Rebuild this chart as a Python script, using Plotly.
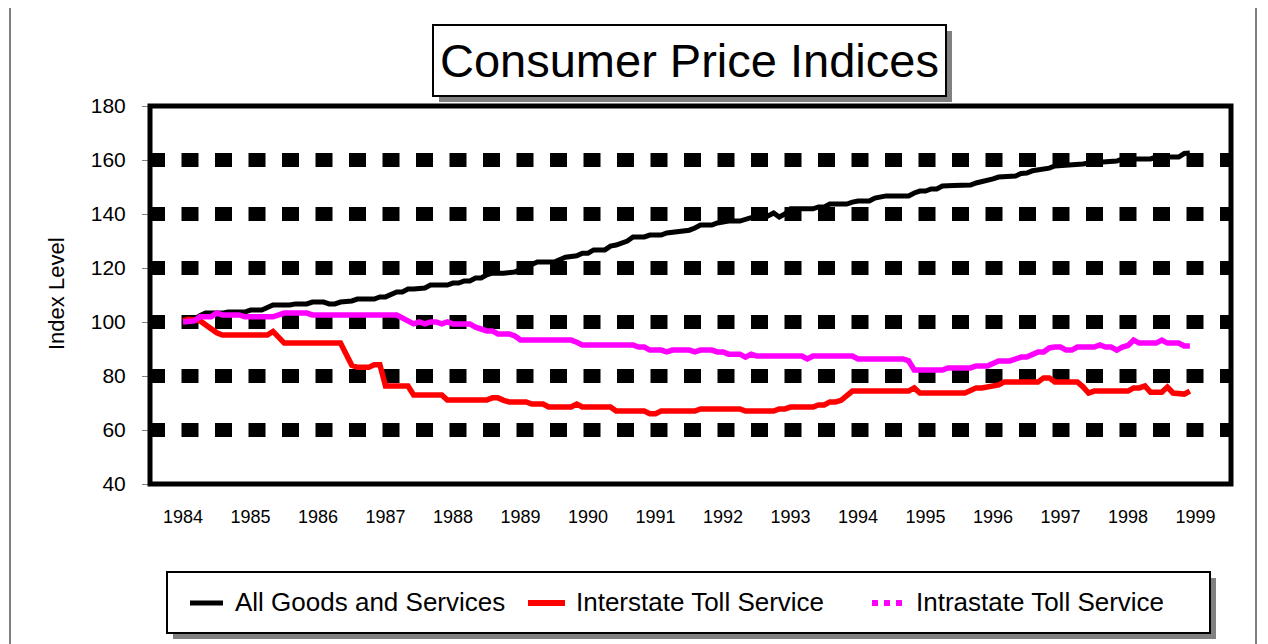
import plotly.graph_objects as go

# ---------------- data ----------------
# x = months since January 1984, y = index level
year_ticks = [0, 12, 24, 36, 48, 60, 72, 84, 96, 108, 120, 132, 144, 156, 168, 180]
year_labels = ["1984", "1985", "1986", "1987", "1988", "1989", "1990", "1991",
               "1992", "1993", "1994", "1995", "1996", "1997", "1998", "1999"]
y_ticks = [40, 60, 80, 100, 120, 140, 160, 180]
grid_levels = [60, 80, 100, 120, 140, 160]

all_goods_month = [0, 2, 3, 4, 7, 8, 11, 12, 14, 15, 16, 19, 20, 22, 23, 25, 26, 27, 28, 30,
                   31, 34, 35, 36, 37, 38, 39, 40, 41, 42, 43, 44, 47, 48, 49, 50, 51, 52, 53,
                   54, 55, 57, 58, 59, 60, 62, 63, 66, 67, 68, 70, 71, 72, 73, 75, 76, 77, 78,
                   79, 80, 82, 83, 85, 86, 87, 88, 90, 91, 92, 94, 95, 96, 97, 99, 100, 101,
                   102, 104, 105, 106, 107, 108, 112, 113, 114, 115, 118, 119, 120, 122, 123,
                   125, 129, 130, 131, 132, 133, 134, 135, 137, 140, 141, 142, 143, 144, 145,
                   147, 148, 149, 150, 151, 152, 153, 154, 155, 159, 160, 161, 165, 166, 167,
                   172, 173, 177, 178, 179]
all_goods_value = [100.0, 101.0, 102.3, 103.3, 103.3, 103.7, 103.7, 104.4, 104.4, 105.2, 106.3,
                   106.3, 106.7, 106.7, 107.4, 107.4, 106.7, 106.7, 107.4, 107.8,
                   108.5, 108.5, 109.3, 109.3, 110.4, 111.1, 111.1, 112.2, 112.2, 112.6, 112.6,
                   113.7, 113.7, 114.4, 114.4, 115.2, 115.2, 116.3, 116.3,
                   117.5, 118.1, 118.1, 118.5, 118.5, 119.5, 121.5, 122.2, 122.2, 123.0, 124.0,
                   124.5, 125.5, 125.5, 126.7, 126.7, 128.1, 128.5, 129.2,
                   130.0, 131.5, 131.5, 132.2, 132.2, 133.0, 133.3, 133.7, 134.0, 134.8, 135.9,
                   135.9, 136.7, 137.0, 137.4, 137.4, 138.0, 138.5,
                   139.3, 139.3, 140.4, 138.9, 140.0, 141.9, 141.9, 142.6, 142.6, 143.7, 143.7,
                   144.4, 144.8, 144.8, 145.9,
                   146.7, 146.7, 147.8, 148.5, 148.5, 149.3, 149.3, 150.4, 150.6, 150.7, 151.5,
                   151.9, 152.2, 153.0, 153.7,
                   154.1, 154.1, 155.0, 155.2, 156.0, 156.3, 156.3, 157.0, 157.8, 158.0, 158.5,
                   158.9, 159.1, 159.6, 160.4,
                   160.4, 161.1, 161.1, 162.4, 162.6]

interstate_month = [0, 1, 3, 4, 5, 6, 7, 15, 16, 17, 18, 28, 29, 30, 31, 33, 34, 35, 36, 40, 41,
                    46, 47, 54, 55, 56, 57, 58, 61, 62, 64, 65, 69, 70, 71, 76, 77, 82, 83, 84,
                    85, 91, 92, 99, 100, 105, 106, 107, 108, 112, 113, 114, 115, 116, 117, 118,
                    119, 129, 130, 131, 139, 140, 141, 142, 143, 144, 145, 146, 152, 153, 154,
                    155, 159, 160, 161, 162, 168, 169, 170, 171, 172, 174, 175, 176, 178, 179]
interstate_value = [100.5, 101.0, 100.5, 99.0, 97.5, 96.0, 95.2, 95.2, 96.5, 94.0, 92.2, 92.2,
                    88.0, 84.0, 83.2, 83.2, 84.2, 84.2, 76.3, 76.3, 73.0,
                    73.0, 71.1, 71.1, 71.9, 71.9, 71.0, 70.4, 70.4, 69.6, 69.6, 68.5, 68.5, 69.6,
                    68.5, 68.5, 67.0, 67.0, 66.0, 66.0,
                    67.0, 67.0, 67.8, 67.8, 67.0, 67.0, 67.8, 67.8, 68.5, 68.5, 69.3, 69.3, 70.4,
                    70.4, 71.0, 72.5,
                    74.4, 74.4, 75.6, 73.7, 73.7, 74.6, 75.6, 75.6, 76.0, 76.7, 76.7, 77.8, 77.8,
                    79.3, 79.3,
                    77.8, 77.8, 76.0, 73.7, 74.4, 74.4, 75.6, 75.6, 76.3, 74.0, 74.0, 75.9, 73.7,
                    73.3, 74.4]

intrastate_month = [0, 1, 2, 3, 5, 6, 7, 10, 11, 16, 17, 18, 22, 23, 38, 39, 40, 41, 42, 43, 44,
                    45, 46, 47, 48, 51, 52, 53, 54, 55, 56, 58, 59, 60, 69, 70, 71, 80, 81, 82,
                    83, 85, 86, 87, 90, 91, 92, 94, 95, 96, 97, 99, 100, 101, 102, 110, 111,
                    112, 119, 120, 128, 129, 130, 135, 136, 140, 141, 143, 144, 145, 147, 148,
                    149, 150, 151, 152, 153, 154, 155, 156, 157, 158, 159, 162, 163, 164, 165,
                    166, 167, 168, 169, 170, 173, 174, 175, 177, 178, 179]
intrastate_value = [100.0, 100.0, 100.4, 101.9, 101.9, 103.3, 102.6, 102.6, 101.9, 101.9, 102.6,
                    103.3, 103.3, 102.6, 102.6, 101.5, 100.0, 99.3, 100.0, 99.3, 100.0,
                    100.0, 99.3, 100.0, 99.3, 99.3, 98.1, 97.4, 96.7, 96.7, 95.6, 95.6, 94.8,
                    93.3, 93.3, 92.5, 91.5, 91.5, 90.7, 90.7,
                    89.6, 89.6, 88.9, 89.6, 89.6, 88.9, 89.6, 89.6, 88.9, 88.9, 88.1, 88.1, 87.0,
                    88.1, 87.4, 87.4, 86.3,
                    87.4, 87.4, 86.3, 86.3, 85.6, 82.2, 82.2, 83.0, 83.0, 83.7, 83.7, 84.8, 85.6,
                    85.6, 86.3,
                    87.0, 87.0, 88.1, 88.9, 88.9, 90.4, 90.7, 90.7, 89.6, 89.6, 90.7, 90.7, 91.5,
                    90.7, 90.7,
                    89.6, 90.7, 91.3, 93.3, 92.2, 92.2, 93.3, 92.2, 92.2, 91.1, 91.1]

series_names = ["All Goods and Services", "Interstate Toll Service", "Intrastate Toll Service"]

# ---------------- layout geometry (window pixels) ----------------
OFF = 8                      # default page margin of the html body
W, H = 1268 - OFF, 644 - OFF
PLOT_LEFT, PLOT_RIGHT, PLOT_TOP, PLOT_BOTTOM = 150, 1231, 106, 484
L = PLOT_LEFT - OFF
T = PLOT_TOP - OFF
R = W - (PLOT_RIGHT - OFF)
B = H - (PLOT_BOTTOM - OFF)
PX_PER_MONTH = 5.625
FIRST_MONTH_X = 183
x_range = [(PLOT_LEFT - FIRST_MONTH_X) / PX_PER_MONTH,
           (PLOT_RIGHT - FIRST_MONTH_X) / PX_PER_MONTH]


def xp(px):
    return (px - PLOT_LEFT) / (PLOT_RIGHT - PLOT_LEFT)


def yp(py):
    return (PLOT_BOTTOM - py) / (PLOT_BOTTOM - PLOT_TOP)


FONT = "Liberation Sans, Arial, sans-serif"

fig = go.Figure()
fig.add_trace(go.Scatter(x=all_goods_month, y=all_goods_value, mode="lines",
                         name=series_names[0], line=dict(color="#000000", width=5)))
fig.add_trace(go.Scatter(x=interstate_month, y=interstate_value, mode="lines",
                         name=series_names[1], line=dict(color="#FF0000", width=5.5)))
fig.add_trace(go.Scatter(x=intrastate_month, y=intrastate_value, mode="lines",
                         name=series_names[2], line=dict(color="#FF00FF", width=5.5)))

shapes = []
# outer chart border
shapes.append(dict(type="rect", xref="paper", yref="paper", x0=xp(10), x1=xp(1256),
                   y0=yp(700), y1=yp(5), line=dict(color="black", width=1), layer="below"))
# dashed heavy grid lines
for lvl in grid_levels:
    shapes.append(dict(type="line", xref="paper", yref="y", x0=xp(148), x1=xp(1233),
                       y0=lvl, y1=lvl, line=dict(color="black", width=14, dash="17px,16.5px"),
                       layer="below"))
# plot frame
shapes.append(dict(type="rect", xref="paper", yref="paper", x0=0, x1=1, y0=0, y1=1,
                   line=dict(color="black", width=5), layer="above"))
# title box with shadow
shapes.append(dict(type="rect", xref="paper", yref="paper", x0=xp(439), x1=xp(952),
                   y0=yp(102), y1=yp(31), fillcolor="#808080", line=dict(width=0)))
shapes.append(dict(type="rect", xref="paper", yref="paper", x0=xp(433), x1=xp(946),
                   y0=yp(96), y1=yp(25), fillcolor="white", line=dict(color="black", width=2)))
# legend box with shadow
shapes.append(dict(type="rect", xref="paper", yref="paper", x0=xp(173), x1=xp(1216),
                   y0=yp(639), y1=yp(578), fillcolor="#808080", line=dict(width=0)))
shapes.append(dict(type="rect", xref="paper", yref="paper", x0=xp(167), x1=xp(1210),
                   y0=yp(633), y1=yp(572), fillcolor="white", line=dict(color="black", width=2)))
# legend samples
shapes.append(dict(type="line", xref="paper", yref="paper", x0=xp(190), x1=xp(223),
                   y0=yp(603), y1=yp(603), line=dict(color="#000000", width=5)))
shapes.append(dict(type="line", xref="paper", yref="paper", x0=xp(528), x1=xp(565),
                   y0=yp(603), y1=yp(603), line=dict(color="#FF0000", width=6)))
shapes.append(dict(type="line", xref="paper", yref="paper", x0=xp(872), x1=xp(906),
                   y0=yp(603), y1=yp(603), line=dict(color="#FF00FF", width=6, dash="6px,6px")))

annotations = [
    dict(text="Consumer Price Indices", xref="paper", yref="paper", x=xp(689), y=yp(61),
         xanchor="center", yanchor="middle", showarrow=False,
         font=dict(family=FONT, size=47, color="black")),
    dict(text="Index Level", xref="paper", yref="paper", x=xp(56), y=yp(294),
         xanchor="center", yanchor="middle", showarrow=False, textangle=-90,
         font=dict(family=FONT, size=22, color="black")),
]
legend_text_x = [233, 574, 914]
for name, tx in zip(series_names, legend_text_x):
    annotations.append(dict(text=name, xref="paper", yref="paper", x=xp(tx), y=yp(602),
                            xanchor="left", yanchor="middle", showarrow=False,
                            font=dict(family=FONT, size=26, color="black")))

fig.update_layout(
    width=W, height=H,
    margin=dict(l=L, r=R, t=T, b=B, pad=0),
    paper_bgcolor="white", plot_bgcolor="white",
    showlegend=False, hovermode=False,
    font=dict(family=FONT, color="black"),
    shapes=shapes, annotations=annotations,
    xaxis=dict(range=x_range, tickvals=year_ticks, ticktext=year_labels, showgrid=False,
               zeroline=False, showline=False, ticks="", ticklabelstandoff=20,
               tickfont=dict(family=FONT, size=18, color="black")),
    yaxis=dict(range=[40, 180], tickvals=y_ticks, showgrid=False, zeroline=False,
               showline=False, ticks="outside", ticklen=7, tickwidth=1, tickcolor="#808080",
               ticklabelstandoff=12, tickfont=dict(family=FONT, size=21, color="black")),
)

fig.write_html("out.html", config={"displayModeBar": False})
